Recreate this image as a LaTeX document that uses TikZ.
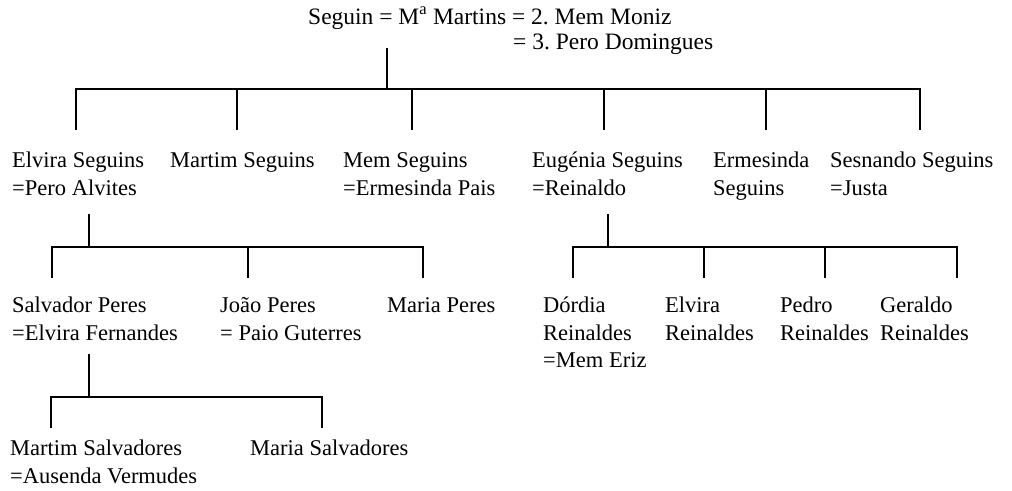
\documentclass[tikz,border=0pt]{standalone}
\usepackage{fontspec}
\setmainfont{Liberation Serif}
\frenchspacing
\begin{document}
\begin{tikzpicture}[x=1pt,y=-1pt,
  person/.style={anchor=base west, inner sep=0pt, align=left, font=\fontsize{22.5}{27.5}\selectfont},
  head/.style={person, font=\fontsize{23.5}{27.5}\selectfont},
  link/.style={line width=1.4pt, line cap=rect}]
\useasboundingbox[fill=white] (0,0) rectangle (1012,490);
% --- people (anchor = baseline of the last line) ---
\node[head] (top1) at (308,24) {Seguin = M\textsuperscript{a} Martins = 2. Mem Moniz};
\node[head] (top2) at (513,49) {= 3. Pero Domingues};
\node[person] (elvira) at (12,195) {Elvira Seguins\\=Pero Alvites};
\node[person] (martim) at (170,167) {Martim Seguins};
\node[person] (mem) at (343,195) {Mem Seguins\\=Ermesinda Pais};
\node[person] (eugenia) at (532,195) {Eugénia Seguins\\=Reinaldo};
\node[person] (ermesinda) at (713,195) {Ermesinda\\Seguins};
\node[person] (sesnando) at (830,195) {Sesnando Seguins\\=Justa};
\node[person] (salvador) at (12,340) {Salvador Peres\\=Elvira Fernandes};
\node[person] (joao) at (220,340) {João Peres\\= Paio Guterres};
\node[person] (mariap) at (387,312.5) {Maria Peres};
\node[person] (dordia) at (543,367.5) {Dórdia\\Reinaldes\\=Mem Eriz};
\node[person] (elvirar) at (665,340) {Elvira\\Reinaldes};
\node[person] (pedro) at (780,340) {Pedro\\Reinaldes};
\node[person] (geraldo) at (880,340) {Geraldo\\Reinaldes};
\node[person] (martims) at (10,483) {Martim Salvadores\\=Ausenda Vermudes};
\node[person] (marias) at (250,455.5) {Maria Salvadores};
% --- junction coordinates ---
\coordinate (s0) at (387,49);  \coordinate (b0) at (387,89);
\coordinate (d1) at (76,129);  \coordinate (d2) at (237,129);
\coordinate (d3) at (412,129); \coordinate (d4) at (604,129);
\coordinate (d5) at (766,129); \coordinate (d6) at (920,129);
\coordinate (s1) at (89,215);  \coordinate (b1) at (89,247);
\coordinate (e1) at (52,277);  \coordinate (e2) at (248,277); \coordinate (e3) at (423,277);
\coordinate (s2) at (608,215); \coordinate (b2) at (608,247);
\coordinate (f1) at (573,277); \coordinate (f2) at (704,277);
\coordinate (f3) at (825,277); \coordinate (f4) at (957,277);
\coordinate (s3) at (89,355);  \coordinate (b3) at (89,397);
\coordinate (g1) at (51,427);  \coordinate (g2) at (322,427);
% --- connectors ---
\draw[link] (s0) -- (b0);
\draw[link] (d1 |- b0) -- (d6 |- b0);
\foreach \d in {d1,d2,d3,d4,d5,d6} \draw[link] (\d |- b0) -- (\d);
\draw[link] (s1) -- (b1);
\draw[link] (e1 |- b1) -- (e3 |- b1);
\foreach \d in {e1,e2,e3} \draw[link] (\d |- b1) -- (\d);
\draw[link] (s2) -- (b2);
\draw[link] (f1 |- b2) -- (f4 |- b2);
\foreach \d in {f1,f2,f3,f4} \draw[link] (\d |- b2) -- (\d);
\draw[link] (s3) -- (b3);
\draw[link] (g1 |- b3) -- (g2 |- b3);
\foreach \d in {g1,g2} \draw[link] (\d |- b3) -- (\d);
\end{tikzpicture}
\end{document}
